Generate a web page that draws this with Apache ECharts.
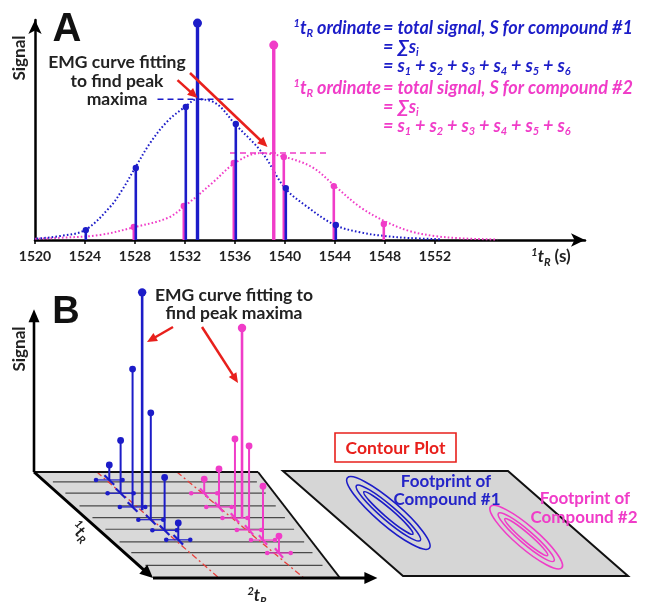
<!DOCTYPE html>
<html>
<head>
<meta charset="utf-8">
<script src="https://cdn.jsdelivr.net/npm/echarts@6/dist/echarts.min.js"></script>
<style>
  html, body { margin: 0; padding: 0; background: #fff; }
  #chart { width: 645px; height: 602px; }
</style>
</head>
<body>
<div id="chart"></div>
<script>
// ---- panel A data (1tR in s, signal in arbitrary units) ----
const tickValues = [1520, 1524, 1528, 1532, 1536, 1540, 1544, 1548, 1552]
const blueStemX = [1524, 1528, 1532, 1536, 1540, 1544]
const blueStemY = [4.5, 32.7, 60.5, 52.7, 23.6, 6.8]
const pinkStemX = [1528, 1532, 1536, 1540, 1544, 1548]
const pinkStemY = [5.9, 15.5, 35, 37.7, 24.5, 7.3]
const blueTotal = [1533, 98.6]
const pinkTotal = [1539.1, 88.6]
const blueCurveX = [1518, 1520, 1522, 1524, 1526, 1527, 1528, 1529.2, 1530.6, 1532, 1533, 1534.5, 1536, 1538.2, 1540, 1541.8, 1544, 1546, 1548, 1550, 1552.5]
const blueCurveY = [0.3, 0.6, 1.8, 4.5, 15, 23, 32.7, 44, 54, 60.5, 64, 62, 52.7, 39.5, 23.6, 15, 6.8, 3.5, 1.8, 0.9, 0.3]
const pinkCurveX = [1518.5, 1522, 1525.2, 1528, 1530.6, 1532, 1534.2, 1536, 1538, 1540, 1542.2, 1544, 1546, 1548, 1550, 1552, 1554, 1557]
const pinkCurveY = [0.3, 1.0, 2.3, 5.9, 10, 15.5, 26, 35, 39.5, 37.7, 33, 24.5, 15, 8.5, 4, 1.8, 0.8, 0.2]
// fitted maxima: [from, to, level]
const blueApex = [1529.8, 1536.1, 64]
const pinkApex = [1535.6, 1543.4, 39.5]

// ---- panel B data: [2tR fraction, 1tR fraction, signal] ----
const bBlueC2 = [0.30, 0.29, 0.28, 0.31, 0.305, 0.32, 0.34]
const bBlueC1 = [0.075, 0.2, 0.33, 0.36, 0.45, 0.55, 0.64]
const bBlueS = [6.8, 24, 62.7, 99, 48.6, 24, 7.7]
const bPinkC2 = [0.676, 0.688, 0.718, 0.752, 0.736, 0.762, 0.787]
const bPinkC1 = [0.2, 0.33, 0.434, 0.434, 0.547, 0.642, 0.764]
const bPinkS = [6.4, 17.3, 35.9, 86.4, 38.2, 24.5, 7.7]
const bRows = [0.094, 0.2, 0.32, 0.43, 0.54, 0.66, 0.76, 0.88]
// contour footprints on the contour plane: centre [2tR, 1tR] and relative levels
const blueFoot = [0.255, 0.4]
const pinkFoot = [0.745, 0.63]
const footLevels = [1, 0.78, 0.6]

const BLUE = '#1c1cc8'
const PINK = '#f03cc8'
const RED = '#e8201c'
const FONT = 'Lato'

function projB(c2, c1, s) {
  const x0 = 34 + c2 * 224
  const x1 = 153 + c2 * 187
  return [x0 + (x1 - x0) * c1, 472 + c1 * 106 - s * 2.2]
}
function projC(c2, c1) {
  return [283 + c2 * 225 + c1 * 120, 471 + c1 * 105]
}

function seg(a, b, stroke, lineWidth, lineDash) {
  return { type: 'line', shape: { x1: a[0], y1: a[1], x2: b[0], y2: b[1] }, style: { stroke, lineWidth, lineDash } }
}
function arrow(a, b, color, lw, len, w) {
  const dx = b[0] - a[0], dy = b[1] - a[1]
  const L = Math.hypot(dx, dy), ux = dx / L, uy = dy / L
  const bx = b[0] - ux * len, by = b[1] - uy * len
  return [
    seg(a, [bx + ux, by + uy], color, lw),
    { type: 'polygon', shape: { points: [[b[0], b[1]], [bx - uy * w, by + ux * w], [bx + uy * w, by - ux * w]] }, style: { fill: color } }
  ]
}

function stemA(color, lw, r, dx) {
  return function (params, api) {
    const base = api.coord([api.value(0), 0])
    const top = api.coord([api.value(0), api.value(1)])
    return {
      type: 'group',
      children: [
        seg([base[0] + dx, base[1]], [top[0] + dx, top[1]], color, lw),
        { type: 'circle', shape: { cx: top[0] + dx, cy: top[1], r }, style: { fill: color } }
      ]
    }
  }
}

function stemB(color, tallIdx) {
  return function (params, api) {
    const c2 = api.value(0), c1 = api.value(1), s = api.value(2)
    const P = (a, b, h) => api.coord(projB(a, b, h))
    const tall = params.dataIndex === tallIdx
    const kids = []
    if (!tall) {
      const l = P(c2 - 0.06, c1, 0), r = P(c2 + 0.06, c1, 0)
      kids.push(seg(l, r, color, 1.2))
      kids.push({ type: 'circle', shape: { cx: l[0], cy: l[1], r: 2.3 }, style: { fill: color } })
      kids.push({ type: 'circle', shape: { cx: r[0], cy: r[1], r: 2.3 }, style: { fill: color } })
      kids.push(seg(P(c2, c1 - 0.045, 0), P(c2, c1 + 0.045, 0), color, 2.2))
    }
    const base = P(c2, c1, 0), top = P(c2, c1, s)
    kids.push(seg(base, top, color, tall ? 2.6 : 2))
    kids.push({ type: 'circle', shape: { cx: top[0], cy: top[1], r: tall ? 4.2 : 3.4 }, style: { fill: color } })
    return { type: 'group', children: kids }
  }
}

function renderPlanes(params, api) {
  const P = (a, b, h) => api.coord(projB(a, b, h || 0))
  const Q = (a, b) => api.coord(projC(a, b))
  const kids = []
  // 3D stem plane
  kids.push({ type: 'polygon', shape: { points: [P(0, 0), P(1, 0), P(1, 1), P(0, 1)] }, style: { fill: '#d9d9d9' } })
  bRows.forEach(r => kids.push(seg(P(0.035, r), P(0.96, r), '#4a4a4a', 1.2)))
  kids.push(seg(P(0.281, 0), P(0.353, 1), '#e8403c', 1.3, [6, 3, 2, 3]))
  kids.push(seg(P(0.638, 0), P(0.807, 1), '#e8403c', 1.3, [6, 3, 2, 3]))
  kids.push(seg(P(0, 0), P(1, 0), '#111', 2))
  kids.push(seg(P(1, 0), P(1, 1), '#111', 2))
  kids.push(...arrow(P(0, 0), P(0, 0, 74), '#000', 2.6, 13, 5.5))
  kids.push(...arrow(P(0, 0), P(0, 1), '#000', 3, 13, 6))
  kids.push(...arrow(P(0, 1), P(1.2, 1), '#000', 3, 13, 6))
  // contour plane
  kids.push({ type: 'polygon', shape: { points: [Q(0, 0), Q(1, 0), Q(1, 1), Q(0, 1)] }, style: { fill: '#d6d6d6', stroke: '#111', lineWidth: 2 } })
  const foot = (c, color, rx, ry) => {
    const p = Q(c[0], c[1])
    footLevels.forEach(k => kids.push({
      type: 'ellipse', x: p[0], y: p[1], rotation: -0.71,
      shape: { cx: 0, cy: 0, rx: rx * k, ry: ry * k * k },
      style: { fill: 'none', stroke: color, lineWidth: 1.6 }
    }))
  }
  foot(blueFoot, BLUE, 54, 12)
  foot(pinkFoot, PINK, 47, 11)
  return { type: 'group', children: kids }
}

function renderCalloutsA(params, api) {
  const C = p => api.coord(p)
  return {
    type: 'group',
    children: [
      ...arrow(C([1531.4, 72.7]), C([1533, 64.5]), RED, 2.5, 10, 4.5),
      ...arrow(C([1532.4, 75.9]), C([1538.6, 42.3]), RED, 2.5, 10, 4.5)
    ]
  }
}
function renderCalloutsB(params, api) {
  const C = p => api.coord(p)
  return {
    type: 'group',
    children: [
      ...arrow(C([173, 327]), C([147, 342]), RED, 2.5, 10, 4.5),
      ...arrow(C([202, 327]), C([238, 383]), RED, 2.5, 10, 4.5)
    ]
  }
}

const zip = (xs, ys) => xs.map((x, i) => [x, ys[i]])
const zip3 = (a, b, c) => a.map((x, i) => [x, b[i], c[i]])

function richStyle(color, size) {
  const f = { fill: color, fontFamily: FONT, fontWeight: 'bold', fontStyle: 'italic' }
  return {
    t: Object.assign({ fontSize: size }, f),
    p: Object.assign({ fontSize: size }, f, { fontStyle: 'normal' }),
    sup: Object.assign({ fontSize: 11, padding: [0, 0, 10, 0] }, f),
    sub: Object.assign({ fontSize: 11, padding: [10, 0, 0, 0] }, f)
  }
}
function text(x, y, str, opts) {
  return {
    type: 'text', x, y, z: 100,
    style: Object.assign({ text: str, fill: '#222', fontFamily: FONT, fontWeight: 'bold', fontSize: 17, align: 'center', verticalAlign: 'middle' }, opts || {})
  }
}
function eqLines(color, y0) {
  const rich = richStyle(color, 18)
  const sums = '{t|= s}{sub|1}{t| + s}{sub|2}{t| + s}{sub|3}{t| + s}{sub|4}{t| + s}{sub|5}{t| + s}{sub|6}'
  const n = color === BLUE ? '1' : '2'
  return [
    text(381, y0, '{sup|1}{t|t}{sub|R}{t| ordinate}', { rich, align: 'right' }),
    text(383, y0, '{t|= total signal, S for compound #' + n + '}', { rich, align: 'left' }),
    text(383, y0 + 19, '{t|= \u2211s}{sub|i}', { rich, align: 'left' }),
    text(383, y0 + 38, sums, { rich, align: 'left' })
  ]
}
const axisRich = richStyle('#222', 17)

const chart = echarts.init(document.getElementById('chart'))
const option = {
  animation: false,
  backgroundColor: '#fff',
  grid: [
    { left: 35, top: 20, width: 550, height: 220 },
    { left: 0, top: 0, width: 645, height: 602 }
  ],
  xAxis: [
    {
      type: 'value', gridIndex: 0, min: 1520, max: 1564, interval: 4,
      axisLine: { lineStyle: { color: '#000', width: 2.5 }, symbol: ['none', 'arrow'], symbolSize: [10, 14] },
      axisTick: { customValues: tickValues, length: 4, lineStyle: { color: '#000', width: 1.5 } },
      axisLabel: {
        customValues: tickValues, formatter: v => String(v),
        color: '#222', fontFamily: FONT, fontWeight: 'bold', fontSize: 14, margin: 9
      },
      splitLine: { show: false }
    },
    { type: 'value', gridIndex: 1, min: 0, max: 645, show: false }
  ],
  yAxis: [
    {
      type: 'value', gridIndex: 0, min: 0, max: 100,
      axisLine: { show: true, lineStyle: { color: '#000', width: 2.5 }, symbol: ['none', 'arrow'], symbolSize: [10, 14] },
      axisTick: { show: false }, axisLabel: { show: false }, splitLine: { show: false }
    },
    { type: 'value', gridIndex: 1, min: 0, max: 602, inverse: true, show: false }
  ],
  series: [
    {
      name: 'compound 2 fit', type: 'line', data: zip(pinkCurveX, pinkCurveY), smooth: 0.35, showSymbol: false, clip: false,
      lineStyle: { color: PINK, width: 2, type: [1.6, 2.2] }, z: 2
    },
    {
      name: 'compound 1 fit', type: 'line', data: zip(blueCurveX, blueCurveY), smooth: 0.35, showSymbol: false, clip: false,
      lineStyle: { color: BLUE, width: 2, type: [1.6, 2.2] }, z: 2
    },
    {
      type: 'line', data: [[blueApex[0], blueApex[2]], [blueApex[1], blueApex[2]]], showSymbol: false,
      lineStyle: { color: BLUE, width: 1.5, type: [6, 4] }, z: 2
    },
    {
      type: 'line', data: [[pinkApex[0], pinkApex[2]], [pinkApex[1], pinkApex[2]]], showSymbol: false,
      lineStyle: { color: PINK, width: 1.5, type: [6, 4] }, z: 2
    },
    { type: 'custom', renderItem: stemA(PINK, 2.6, 3.2, -1.2), data: zip(pinkStemX, pinkStemY), z: 3 },
    { type: 'custom', renderItem: stemA(BLUE, 2.6, 3.2, 0.8), data: zip(blueStemX, blueStemY), z: 3 },
    { type: 'custom', renderItem: stemA(PINK, 3.4, 4.5, 0), data: [pinkTotal], z: 4 },
    { type: 'custom', renderItem: stemA(BLUE, 3.4, 4.5, 0), data: [blueTotal], z: 4 },
    { type: 'custom', renderItem: renderCalloutsA, data: [[1532, 50]], z: 5 },
    // panel B
    { type: 'custom', xAxisIndex: 1, yAxisIndex: 1, renderItem: renderPlanes, data: [[0, 0]], z: 1 },
    { type: 'custom', xAxisIndex: 1, yAxisIndex: 1, renderItem: stemB(BLUE, 3), data: zip3(bBlueC2, bBlueC1, bBlueS), z: 3 },
    { type: 'custom', xAxisIndex: 1, yAxisIndex: 1, renderItem: stemB(PINK, 3), data: zip3(bPinkC2, bPinkC1, bPinkS), z: 3 },
    { type: 'custom', xAxisIndex: 1, yAxisIndex: 1, renderItem: renderCalloutsB, data: [[0, 0]], z: 5 }
  ],
  graphic: [
    text(67, 30, 'A', { fontFamily: 'Liberation Sans', fontSize: 40, fill: '#111' }),
    Object.assign(text(20, 58, 'Signal'), { rotation: Math.PI / 2 }),
    text(117, 62, 'EMG curve fitting', { fontSize: 17.5 }),
    text(117, 81, 'to find peak', { fontSize: 17.5 }),
    text(117, 99, 'maxima', { fontSize: 17.5 }),
    ...eqLines(BLUE, 28),
    ...eqLines(PINK, 88),
    text(551, 257, '{sup|1}{t|t}{sub|R}{p| (s)}', { rich: axisRich }),
    text(66, 313, 'B', { fontFamily: 'Liberation Sans', fontSize: 38, fill: '#111' }),
    Object.assign(text(20, 349, 'Signal'), { rotation: Math.PI / 2 }),
    text(234, 295, 'EMG curve fitting to', { fontSize: 17.5 }),
    text(234, 313, 'find peak maxima', { fontSize: 17.5 }),
    Object.assign(text(80, 532, '{sup|1}{t|t}{sub|R}', { rich: axisRich }), { rotation: -0.75 }),
    text(257, 596, '{sup|2}{t|t}{sub|R}', { rich: axisRich }),
    { type: 'rect', z: 99, shape: { x: 335, y: 433, width: 121, height: 29 }, style: { fill: '#fff', stroke: RED, lineWidth: 1.6 } },
    text(395.5, 448, 'Contour Plot', { fill: RED, fontSize: 17.5 }),
    text(446, 482, 'Footprint of', { fill: '#2424c8', fontSize: 17 }),
    text(447, 500, 'Compound #1', { fill: '#2424c8', fontSize: 17 }),
    text(585, 499, 'Footprint of', { fill: PINK, fontSize: 17 }),
    text(584, 518, 'Compound #2', { fill: PINK, fontSize: 17 })
  ]
}
chart.setOption(option)
</script>
</body>
</html>
